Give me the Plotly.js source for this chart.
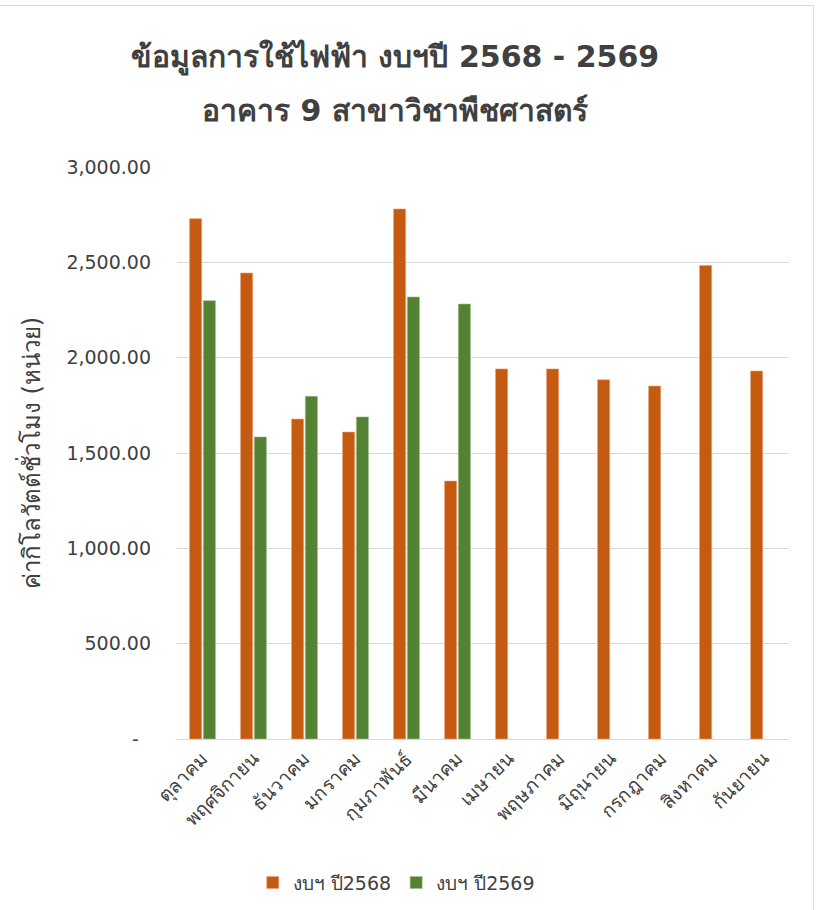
<!DOCTYPE html>
<html>
<head>
<meta charset="utf-8">
<script src="https://cdn.plot.ly/plotly-3.0.1.min.js"></script>
<style>
html,body{margin:0;padding:0;background:#fff;}
#frame{position:absolute;left:-2px;top:5px;width:815px;height:920px;border-top:1px solid #d9d9d9;border-right:1px solid #d9d9d9;pointer-events:none;}
#chart{width:817px;height:910px;}
</style>
</head>
<body>
<div id="chart"></div>
<div id="frame"></div>
<script>
const months = ["ตุลาคม","พฤศจิกายน","ธันวาคม","มกราคม","กุมภาพันธ์","มีนาคม","เมษายน","พฤษภาคม","มิถุนายน","กรกฎาคม","สิงหาคม","กันยายน"];
const fy2568 = [2729, 2444, 1678, 1610, 2780, 1353, 1941, 1941, 1884, 1851, 2484, 1930];
const fy2569 = [2299, 1584, 1797, 1689, 2318, 2281, null, null, null, null, null, null];
const seriesNames = ["งบฯ ปี2568", "งบฯ ปี2569"];
const titleLines = ["ข้อมูลการใช้ไฟฟ้า งบฯปี 2568 - 2569", "อาคาร 9 สาขาวิชาพืชศาสตร์"];
const tickValues = [0, 500, 1000, 1500, 2000, 2500, 3000];
const tickLabels = ["-\u00a0\u00a0", "500.00", "1,000.00", "1,500.00", "2,000.00", "2,500.00", "3,000.00"];

const FONT = "'DejaVu Sans', 'Noto Sans', sans-serif";

const traces = [
  {type:"bar", x:months, y:fy2568, name:seriesNames[0], marker:{color:"#C55A11", line:{color:"#e8a07a", width:0.6}}},
  {type:"bar", x:months, y:fy2569, name:seriesNames[1], marker:{color:"#548235", line:{color:"#9dbb88", width:0.6}}}
];

const plotW = 817 - 177 - 28, plotH = 910 - 167 - 171;
const layout = {
  width:817, height:910,
  paper_bgcolor:"#fff", plot_bgcolor:"#fff",
  font:{family:FONT, color:"#404040"},
  margin:{l:177, r:28, t:167, b:171},
  annotations:[
    {text:"<b>"+titleLines[0]+"</b>", xref:"paper", yref:"paper", x:(395-177)/plotW, xanchor:"center", y:1+(167-57)/plotH, yanchor:"middle", showarrow:false, font:{size:30, color:"#404040"}},
    {text:"<b>"+titleLines[1]+"</b>", xref:"paper", yref:"paper", x:(395-177)/plotW, xanchor:"center", y:1+(167-110)/plotH, yanchor:"middle", showarrow:false, font:{size:30, color:"#404040"}}
  ],
  barmode:"group", bargap:0.46, bargroupgap:0.12,
  xaxis:{type:"category", tickangle:-45, tickfont:{size:19, color:"#404040"}, showline:true, linecolor:"#d9d9d9", linewidth:1, ticks:"", showgrid:false},
  yaxis:{range:[0,3000], tickvals:tickValues, ticktext:tickLabels, tickfont:{size:19, color:"#404040"}, showgrid:true, gridcolor:"#d9d9d9", gridwidth:1, zeroline:false, ticks:"", ticklabelstandoff:25,
    title:{text:"ค่ากิโลวัตต์ชั่วโมง (หน่วย)", font:{size:24, color:"#404040"}, standoff:18}},
  legend:{orientation:"h", x:0.485, xref:"container", xanchor:"center", y:0.03, yref:"container", yanchor:"middle", font:{size:19, color:"#404040"}},
  showlegend:true
};

Plotly.newPlot("chart", traces, layout, {displayModeBar:false, staticPlot:true});
</script>
</body>
</html>
